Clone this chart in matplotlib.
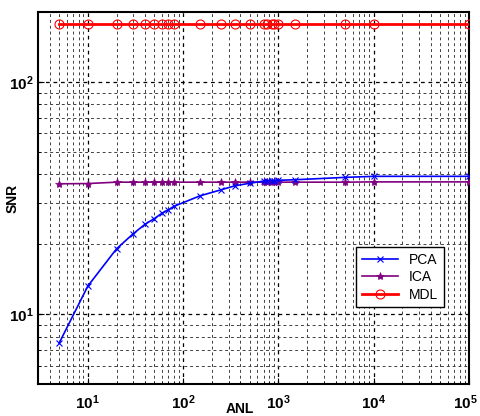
import matplotlib
matplotlib.use("Agg")
import matplotlib.pyplot as plt
import matplotlib.transforms as mtransforms
from matplotlib.ticker import LogLocator, NullFormatter

plt.rcParams['font.family'] = ['Liberation Sans', 'DejaVu Sans']
plt.rcParams['mathtext.fontset'] = 'custom'
plt.rcParams['mathtext.rm'] = 'Liberation Sans'
plt.rcParams['mathtext.it'] = 'Liberation Sans'
plt.rcParams['mathtext.bf'] = 'Liberation Sans:bold'

anl = [5, 10, 20, 30, 40, 50, 60, 70, 80, 150, 250, 350, 500, 700, 750, 850,
       900, 1000, 1500, 5000, 10000, 100000]
pca = [7.5, 13.2, 19.1, 22.2, 24.4, 25.8, 27.2, 28.1, 29.1, 32.3, 34.3, 35.7,
       36.6, 37.4, 37.5, 37.6, 37.6, 37.7, 37.9, 38.8, 39.2, 39.2]
ica = [36.4, 36.5, 37.0, 37.0, 37.0, 37.0, 37.0, 37.0, 37.0, 37.0, 37.0, 37.0,
       37.0, 37.0, 37.0, 37.0, 37.0, 37.0, 37.0, 37.0, 37.1, 37.1]
mdl = [177] * len(anl)

x_ticks = [10, 100, 1000, 10000, 100000]
x_tick_labels = [r'$\mathbf{10^{1}}$', r'$\mathbf{10^{2}}$', r'$\mathbf{10^{3}}$',
                 r'$\mathbf{10^{4}}$', r'$\mathbf{10^{5}}$']
y_ticks = [10, 100]
y_tick_labels = [r'$\mathbf{10^{1}}$', r'$\mathbf{10^{2}}$']

fig = plt.figure(figsize=(4.8, 4.16), dpi=100)
ax = fig.add_axes([38/480, 32/416, 431/480, 372/416])

ax.plot(anl, pca, color='#0000ff', marker='x', markersize=4.5, lw=1.2,
        markeredgewidth=0.8, label='PCA', zorder=4)
ax.plot(anl, ica, color='#800080', marker='*', markersize=6, lw=1.2,
        markeredgewidth=0.5, label='ICA', zorder=3)
ax.plot(anl, mdl, color='#ff0000', marker='o', markersize=6.5, lw=2,
        markerfacecolor='none', markeredgewidth=0.8, label='MDL', zorder=5)

ax.set_xscale('log')
ax.set_yscale('log')
ax.set_xlim(3, 1e5)
ax.set_ylim(5, 200)

ax.set_xticks(x_ticks)
ax.set_xticklabels(x_tick_labels)
ax.xaxis.set_minor_locator(LogLocator(base=10, subs=range(2, 10), numticks=20))
ax.xaxis.set_minor_formatter(NullFormatter())
ax.set_yticks(y_ticks)
ax.set_yticklabels(y_tick_labels)
ax.yaxis.set_minor_locator(LogLocator(base=10, subs=range(2, 10), numticks=20))
ax.yaxis.set_minor_formatter(NullFormatter())

ax.grid(True, which='major', color='black', linestyle=(0, (3, 3)), lw=0.9)
ax.grid(True, which='minor', color='0.25', linestyle=(0, (3, 3)), lw=0.7)
ax.tick_params(which='both', direction='in', labelsize=11)
ax.tick_params(axis='x', which='major', length=4, pad=7)
ax.tick_params(axis='y', which='major', length=4, pad=3)
ax.tick_params(which='minor', length=2)
for s in ax.spines.values():
    s.set_linewidth(1.5)

# keep the last x tick label inside the figure
last = ax.get_xticklabels()[-1]
last.set_transform(last.get_transform() +
                   mtransforms.ScaledTranslation(-4/100, 0, fig.dpi_scale_trans))

ax.set_xlabel('ANL', fontsize=10, fontweight='bold')
ax.set_ylabel('SNR', fontsize=10, fontweight='bold')
ax.xaxis.set_label_coords(0.469, -0.048)
ax.yaxis.set_label_coords(-0.042, 0.5)

leg = ax.legend(loc='upper left', bbox_to_anchor=(0.738, 0.368), borderaxespad=0,
                fancybox=False, edgecolor='black', framealpha=1, fontsize=10,
                handlelength=2.6, labelspacing=0.25, borderpad=0.4)
leg.get_frame().set_linewidth(1.0)

fig.savefig('out.png', dpi=100)
